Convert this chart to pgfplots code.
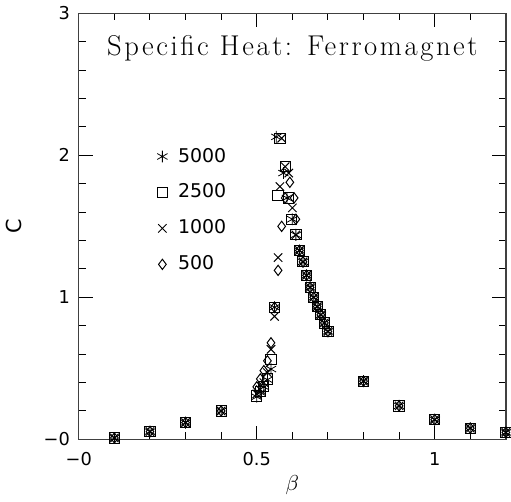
\documentclass[border=0pt]{standalone}
\usepackage{pgfplots}
\pgfplotsset{compat=1.18}
\usepackage{fontspec}
\newfontfamily\labelfont{DejaVu Sans}
\newfontfamily\titlefont[LetterSpace=9]{Latin Modern Roman}

% C(beta) for four lattice sizes
\pgfplotstableread{
b C
0.1 0.010
0.2 0.055
0.3 0.118
0.4 0.200
0.50 0.300
0.51 0.330
0.52 0.370
0.53 0.420
0.54 0.495
0.55 0.930
0.555 2.130
0.575 1.875
0.585 1.700
0.60 1.550
0.61 1.440
0.62 1.330
0.63 1.250
0.64 1.155
0.65 1.070
0.66 1.000
0.67 0.935
0.68 0.877
0.69 0.820
0.70 0.760
0.8 0.410
0.9 0.236
1.0 0.139
1.1 0.079
1.2 0.049
}\tabA
\pgfplotstableread{
b C
0.1 0.010
0.2 0.055
0.3 0.118
0.4 0.200
0.50 0.305
0.51 0.335
0.52 0.370
0.53 0.426
0.54 0.565
0.55 0.930
0.56 1.715
0.565 2.120
0.58 1.920
0.59 1.700
0.597 1.550
0.61 1.440
0.62 1.330
0.63 1.250
0.64 1.155
0.65 1.070
0.66 1.000
0.67 0.935
0.68 0.877
0.69 0.820
0.70 0.760
0.8 0.410
0.9 0.236
1.0 0.139
1.1 0.079
1.2 0.049
}\tabB
\pgfplotstableread{
b C
0.1 0.010
0.2 0.055
0.3 0.118
0.4 0.200
0.50 0.320
0.51 0.350
0.52 0.400
0.53 0.470
0.54 0.634
0.55 0.866
0.56 1.280
0.565 1.780
0.57 2.120
0.58 1.920
0.59 1.875
0.60 1.630
0.61 1.440
0.62 1.330
0.63 1.250
0.64 1.155
0.65 1.070
0.66 1.000
0.67 0.935
0.68 0.877
0.69 0.820
0.70 0.760
0.8 0.410
0.9 0.236
1.0 0.139
1.1 0.079
1.2 0.049
}\tabC
\pgfplotstableread{
b C
0.1 0.010
0.2 0.055
0.3 0.118
0.4 0.200
0.50 0.370
0.51 0.426
0.52 0.484
0.53 0.553
0.54 0.680
0.55 0.930
0.56 1.190
0.57 1.500
0.58 1.700
0.593 1.810
0.605 1.700
0.61 1.550
0.62 1.330
0.63 1.250
0.64 1.155
0.65 1.070
0.66 1.000
0.67 0.935
0.68 0.877
0.69 0.820
0.70 0.760
0.8 0.410
0.9 0.236
1.0 0.139
1.1 0.079
1.2 0.049
}\tabD

\begin{document}
\begin{tikzpicture}
\begin{axis}[
    scale only axis,
    width=216.5pt, height=216pt,
    xmin=0, xmax=1.2,
    ymin=0, ymax=3,
    xtick={0,0.5,1}, xticklabels={−0,0.5,1},
    ytick={0,1,2,3}, yticklabels={−0,1,2,3},
    minor xtick={0.1,0.2,...,1.2},
    minor ytick={0.2,0.4,...,3},
    tick align=inside,
    major tick length=7pt, minor tick length=3.5pt,
    axis line style={black!75, line width=0.7pt},
    every tick/.style={black, line width=0.5pt},
    ticklabel style={font=\labelfont\fontsize{9}{10}\selectfont},
    xticklabel style={yshift=-3pt},
    yticklabel style={xshift=-1pt},
    xlabel={$\beta$}, ylabel={\labelfont C},
    label style={font=\fontsize{10.5}{12}\selectfont},
    xlabel style={yshift=2pt},
    ylabel style={yshift=4pt},
    clip=false,
    legend style={at={(axis cs:0.20,2.11)}, anchor=north west, draw=none, fill=none,
        font=\labelfont\fontsize{9.6}{10}\selectfont, row sep=5.6pt},
    legend cell align=left,
    pt/.style={only marks, line width=0.5pt,
        legend image code/.code={\path (0cm,0cm) (0.3cm,0cm);
            \draw plot coordinates {(0.1cm,0cm)};}},
]
\addplot[pt, mark=asterisk, mark size=3pt, line width=0.4pt] table {\tabA};
\addlegendentry{5000}
\addplot[pt, mark=square, mark size=2.6pt] table {\tabB};
\addlegendentry{2500}
\addplot[pt, mark=x, mark size=3pt] table {\tabC};
\addlegendentry{1000}
\addplot[pt, mark=diamond, mark size=2.6pt] table {\tabD};
\addlegendentry{500}
\node at (axis description cs:0.5,0.917) {\titlefont\fontsize{14.5}{16}\selectfont Specific Heat: Ferromagnet};
\end{axis}
\end{tikzpicture}
\end{document}
